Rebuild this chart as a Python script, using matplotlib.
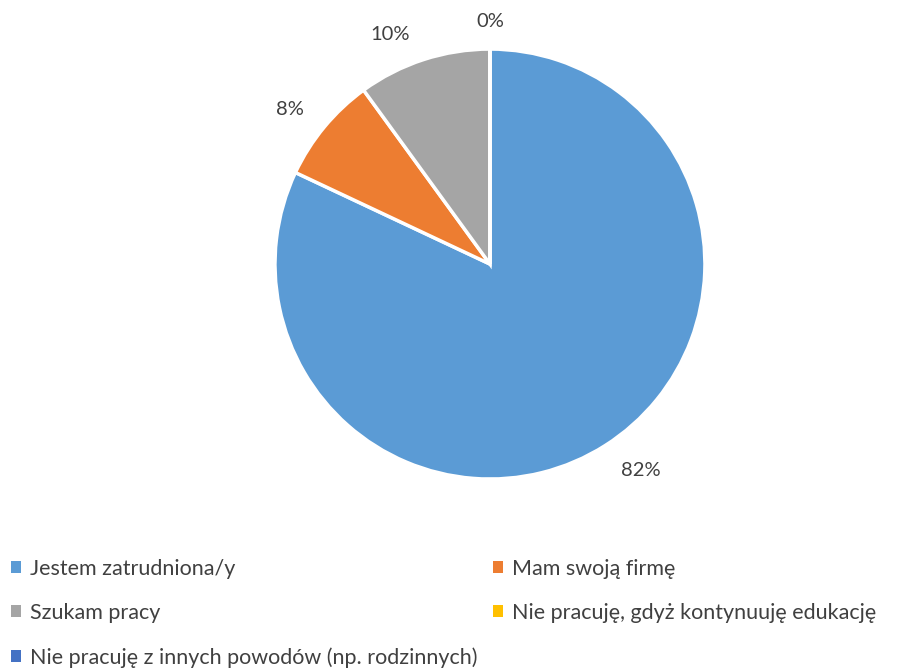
import matplotlib.pyplot as plt
from matplotlib.patches import Patch

plt.rcParams['font.family'] = ['Lato', 'DejaVu Sans']

categories = ['Jestem zatrudniona/y', 'Mam swoją firmę', 'Szukam pracy',
              'Nie pracuję, gdyż kontynuuję edukację',
              'Nie pracuję z innych powodów (np. rodzinnych)']
values = [82, 8, 10, 0, 0]
colors = ['#5B9BD5', '#ED7D31', '#A5A5A5', '#FFC000', '#4472C4']
# where Excel put the percentage labels (in units of the pie radius)
label_pos = [(0.70, -0.96), (-0.93, 0.72), (-0.465, 1.07), (0.0, 1.13)]

fig = plt.figure(figsize=(8.98, 6.70), dpi=100)
ax = fig.add_axes([0.3062, 0.285, 0.4788, 0.6418])

wedges, texts = ax.pie(values, colors=colors, startangle=90, counterclock=False,
                       wedgeprops=dict(edgecolor='white', linewidth=2.5))
ax.set_xlim(-1, 1)
ax.set_ylim(-1, 1)
ax.set_aspect('equal')

for v, (x, y) in zip(values, label_pos):
    ax.text(x, y, f'{v}%', ha='center', va='center', fontsize=14.5,
            color='#404040', clip_on=False)

order = [0, 2, 4, 1, 3]
handles = [Patch(facecolor=colors[i], edgecolor='none') for i in order]
labels = [categories[i] for i in order]
fig.legend(handles, labels, ncol=2, loc='upper left', bbox_to_anchor=(-0.009, 0.195),
           frameon=False, fontsize=15.5, handlelength=0.45, handleheight=0.45,
           handletextpad=0.4, labelspacing=1.12, columnspacing=0.75,
           labelcolor='#404040')

fig.savefig('out.png', dpi=100)
